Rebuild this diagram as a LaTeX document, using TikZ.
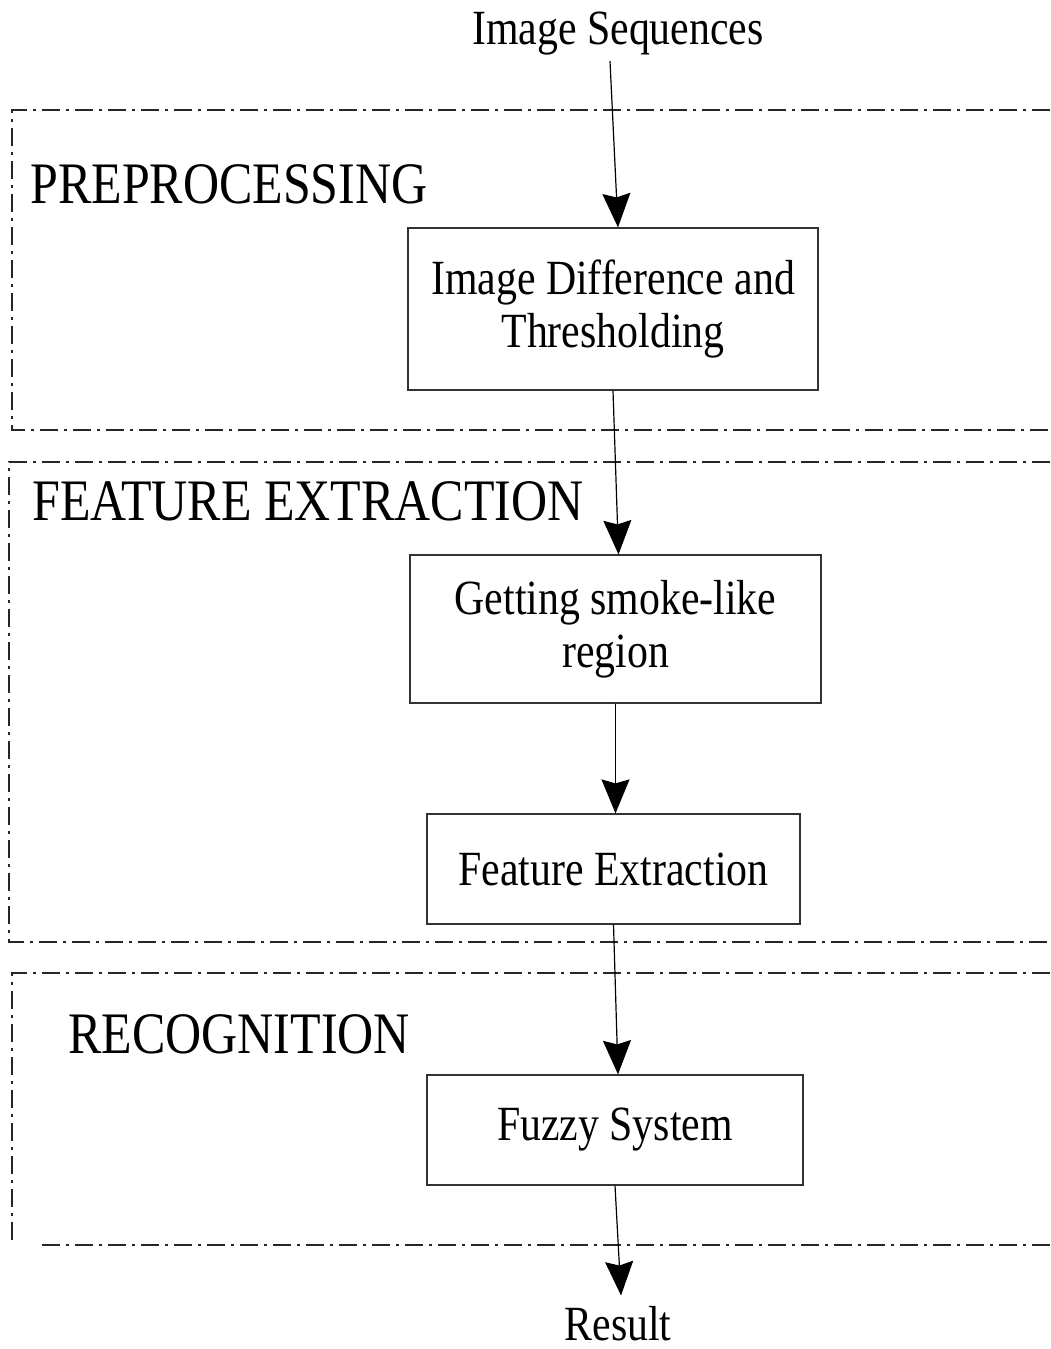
\documentclass[tikz,border=0pt]{standalone}
\usepackage{fontspec}
\setmainfont{Liberation Serif}[FakeStretch=0.85]
\usetikzlibrary{arrows.meta}
\begin{document}
\begin{tikzpicture}[x=0.5pt,y=-0.5pt,
  region/.style={draw=black!85,line width=0.7pt,dash pattern=on 9pt off 3pt on 1.5pt off 3pt},
  proc/.style={draw=black!80,line width=0.6pt,align=center,font=\fontsize{24.6}{26.5}\selectfont,inner sep=0pt},
  head/.style={anchor=base west,inner sep=0pt,font=\fontsize{29.4}{30}\selectfont},
  label/.style={inner sep=0pt,font=\fontsize{24.6}{26}\selectfont},
  flow/.style={line width=0.6pt,-{Stealth[length=17pt,width=14pt,inset=2pt]}}]
\useasboundingbox (0,0) rectangle (1050,1349);
% regions
\draw[region] (1050,110) -- (12,110) -- (12,430) -- (1050,430);
\draw[region] (1050,462) -- (9,462) -- (9,942) -- (1050,942);
\draw[region] (1050,973) -- (12,973) -- (12,1240);
\draw[region] (42,1245) -- (1050,1245);
% headings
\node[head] (h1) at (30,203) {PREPROCESSING};
\node[head] (h2) at (32,520) {FEATURE EXTRACTION};
\node[head] (h3) at (68,1053) {RECOGNITION};
% nodes
\node[label,anchor=base] (seq) at (618,44) {Image Sequences};
\node[proc,minimum width=205pt,minimum height=81pt] (b1) at (613,309) {Image Difference and\\Thresholding};
\node[proc,minimum width=205.5pt,minimum height=74pt] (b2) at (615.5,629) {Getting smoke-like\\region};
\node[proc,minimum width=186.5pt,minimum height=55pt] (b3) at (613.5,869) {Feature Extraction};
\node[proc,minimum width=188pt,minimum height=55pt] (b4) at (615,1130) {Fuzzy System};
\node[label,anchor=base] (res) at (618,1340) {Result};
% connectors
\draw[flow] ([xshift=-4pt,yshift=-3pt]seq.south) -- ([xshift=2.5pt]b1.north);
\draw[flow] (b1.south) -- ([xshift=1.5pt]b2.north);
\draw[flow] (b2.south) -- ([xshift=1pt]b3.north);
\draw[flow] (b3.south) -- ([xshift=1.5pt]b4.north);
\draw[flow] (b4.south) -- ([xshift=1.5pt,yshift=5pt]res.north);
\end{tikzpicture}
\end{document}
